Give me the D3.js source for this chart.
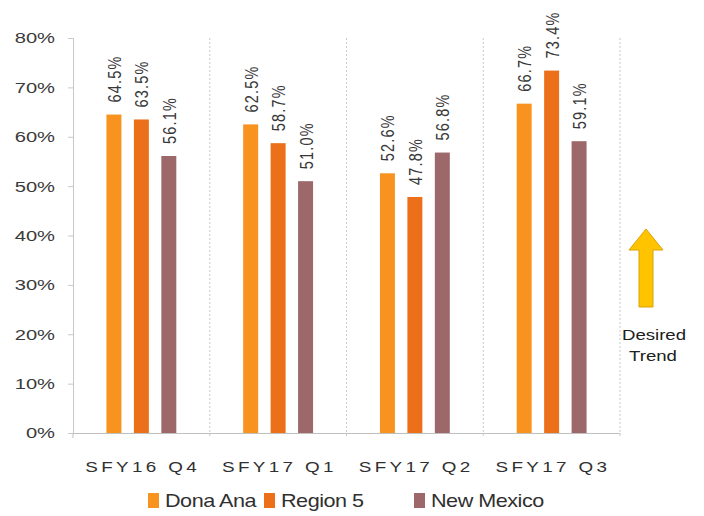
<!DOCTYPE html>
<html><head><meta charset="utf-8">
<script src="https://cdn.jsdelivr.net/npm/d3@7"></script>
<style>body{margin:0;background:#fff}svg{display:block}</style>
</head><body>
<svg id="c" width="704" height="516"></svg>
<script>
const categories = ["SFY16 Q4", "SFY17 Q1", "SFY17 Q2", "SFY17 Q3"];
const seriesNames = ["Dona Ana", "Region 5", "New Mexico"];
const donaAna = [64.5, 62.5, 52.6, 66.7];
const region5 = [63.5, 58.7, 47.8, 73.4];
const newMexico = [56.1, 51.0, 56.8, 59.1];
const yTicks = [0, 10, 20, 30, 40, 50, 60, 70, 80];
const colors = ["#F7931E", "#EB7019", "#9C686A"];

const svg = d3.select("#c");
const pLeft = 73, pRight = 620, pTop = 38, pBottom = 433;
const SX = 1.3; // horizontal stretch of text
const x = d3.scaleBand().domain(categories).range([pLeft, pRight]).padding(0);
const xs = d3.scaleBand().domain(seriesNames).range([0, x.bandwidth()]).paddingInner(0.4545).paddingOuter(1.218);
const y = d3.scaleLinear().domain([0, 80]).range([pBottom, pTop]);
const series = [donaAna, region5, newMexico];
const font = "'Liberation Sans', Arial, sans-serif";

// category separators (dashed)
svg.append("g").selectAll("line").data(categories).join("line")
  .attr("x1", d => x(d) + x.bandwidth())
  .attr("x2", d => x(d) + x.bandwidth())
  .attr("y1", pTop).attr("y2", pBottom + 5)
  .attr("stroke", "#c8c8c8").attr("stroke-dasharray", "2,2");

// y axis
const yAxis = d3.axisLeft(y).tickValues(yTicks).tickFormat(d => d + "%").tickSize(5);
const ga = svg.append("g").attr("transform", `translate(${pLeft},0)`).call(yAxis);
ga.select(".domain").attr("stroke", "#c8c8c8");
ga.selectAll(".tick line").attr("stroke", "#c8c8c8");
ga.selectAll(".tick text").attr("font-family", font).attr("font-size", 15.5).attr("fill", "#3a3a3a")
  .attr("x", -18 / SX).attr("transform", `scale(${SX},1)`);

// x axis
const xAxis = d3.axisBottom(x).tickSize(0);
const gx = svg.append("g").attr("transform", `translate(0,${pBottom})`).call(xAxis);
gx.select(".domain").attr("stroke", "#c0c0c0");
gx.selectAll(".tick text").attr("font-family", font).attr("font-size", 14.5).attr("fill", "#303030")
  .attr("letter-spacing", "2.6px").attr("dy", null).attr("y", 39).attr("x", 1)
  .attr("transform", `scale(${SX},1)`);
svg.append("line").attr("x1", pLeft).attr("x2", pLeft).attr("y1", pBottom).attr("y2", pBottom+5).attr("stroke", "#c0c0c0");

// bars
series.forEach((vals, si) => {
  const g = svg.append("g");
  g.selectAll("rect").data(vals).join("rect")
    .attr("x", (d,i) => x(categories[i]) + xs(seriesNames[si]))
    .attr("width", xs.bandwidth())
    .attr("y", d => y(d))
    .attr("height", d => y(0) - y(d))
    .attr("fill", colors[si]);
  g.selectAll("text").data(vals).join("text")
    .attr("transform", (d,i) => `translate(${x(categories[i]) + xs(seriesNames[si]) + xs.bandwidth()/2 + 7},${y(d) - 12}) scale(${SX},1) rotate(-90)`)
    .attr("font-family", font).attr("font-size", 14.5).attr("fill", "#383838")
    .attr("letter-spacing", "1.2px")
    .text(d => d.toFixed(1) + "%");
});

// legend
const legendX = [148, 264, 414];
const LS = 1.2;
const lg = svg.append("g");
seriesNames.forEach((n, i) => {
  lg.append("rect").attr("x", legendX[i]).attr("y", 493).attr("width", 11).attr("height", 15).attr("fill", colors[i]);
  lg.append("text").attr("x", (legendX[i] + 17) / LS).attr("y", 507).attr("font-family", font)
    .attr("transform", `scale(${LS},1)`)
    .attr("font-size", 18).attr("fill", "#303030").attr("letter-spacing", "-0.4px").text(n);
});

// desired trend arrow
const ag = svg.append("g");
ag.append("path").attr("d", "M646,229 L663,250 L653,250 L653,307 L639,307 L639,250 L629,250 Z")
  .attr("fill", "#FFC300").attr("stroke", "#D9A400").attr("stroke-width", 1);
ag.append("text").attr("x", 654 / 1.2).attr("y", 340).attr("text-anchor", "middle").attr("font-family", font)
  .attr("transform", "scale(1.2,1)")
  .attr("font-size", 15.5).attr("fill", "#202020").text("Desired");
ag.append("text").attr("x", 653 / 1.2).attr("y", 361).attr("text-anchor", "middle").attr("font-family", font)
  .attr("transform", "scale(1.2,1)")
  .attr("font-size", 15.5).attr("fill", "#202020").text("Trend");
</script>
</body></html>
